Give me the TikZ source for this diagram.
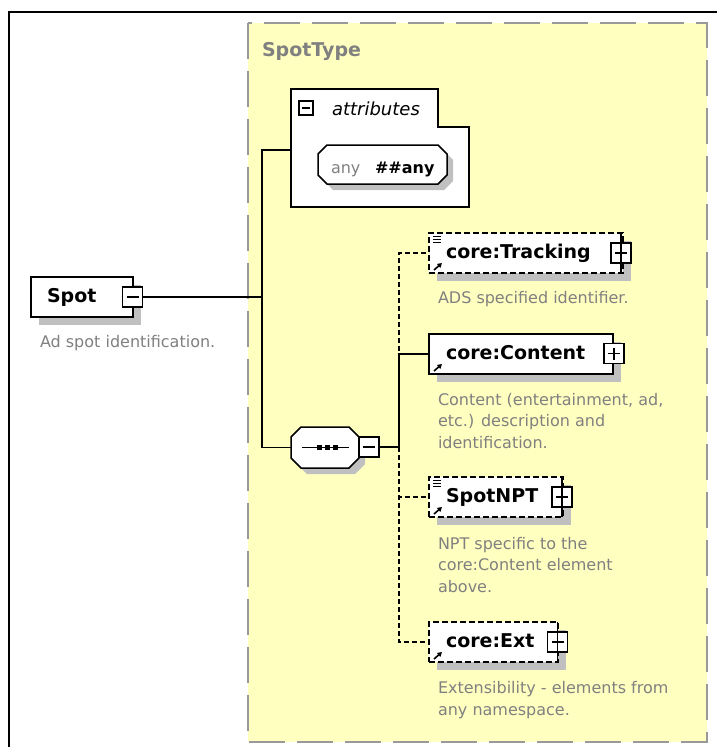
\documentclass[tikz,border=0pt]{standalone}
\usepackage{fontspec}
\setmainfont{DejaVu Sans}
\usetikzlibrary{shadows,arrows.meta,calc}
\definecolor{ylw}{HTML}{FFFFC0}
\definecolor{dgray}{HTML}{808080}
\definecolor{shd}{HTML}{C0C0C0}
\definecolor{bgray}{HTML}{999999}
\newcommand\pmbar[1]{\draw[line width=1.2pt] ([xshift=4pt]#1.west) -- ([xshift=-4pt]#1.east);}
\newcommand\pmvert[1]{\draw[line width=1.2pt] ([yshift=-4pt]#1.north) -- ([yshift=4pt]#1.south);}
\newcommand\multicon[1]{\foreach \k in {3,6,9}{\draw[line width=1pt] ($(#1.north west)+(4,\k)$) -- ++(8,0);}}
\newcommand\refarrow[1]{\draw[line width=1.6pt,-{Triangle[length=4.5pt,width=5pt]}] ($(#1.south west)+(5,-3)$) -- ++(8,-7);}
% octagon outline: centre x, centre y, width, height, chamfer
\newcommand\octpath[5]{(#1-#3/2+#5,#2-#4/2) -- (#1+#3/2-#5,#2-#4/2) -- (#1+#3/2,#2-#4/2+#5) -- (#1+#3/2,#2+#4/2-#5) -- (#1+#3/2-#5,#2+#4/2) -- (#1-#3/2+#5,#2+#4/2) -- (#1-#3/2,#2+#4/2-#5) -- (#1-#3/2,#2-#4/2+#5) -- cycle}
\begin{document}
\begin{tikzpicture}[x=1pt,y=-1pt,
  every node/.style={inner sep=0pt, outer sep=0pt},
  lab/.style={font=\fontsize{19}{22}\bfseries\selectfont, text height=14pt, text depth=4pt, align=left},
  elem/.style={draw, fill=white, line width=1.5pt, minimum height=40pt, anchor=north west,
    drop shadow={shadow xshift=8pt, shadow yshift=-8pt, opacity=1, fill=shd}},
  optb/.style={dash pattern=on 6pt off 3pt},
  desc/.style={font=\fontsize{16}{21.5}\selectfont, text=dgray, align=left, anchor=base west},
  pm/.style={draw, fill=white, line width=1.2pt, minimum size=20pt},
  conn/.style={line width=1.5pt},
  oconn/.style={conn, dash pattern=on 5pt off 3pt},
  octline/.style={draw, fill=white, line width=1.5pt},
]
\useasboundingbox (0,0) rectangle (716,747);
\fill[white] (0,0) rectangle (716,747);
\draw[line width=1.5pt] (9,760) -- (9,12) -- (730,12);
% complex type area
\draw[fill=ylw, draw=bgray, line width=2pt, dash pattern=on 36pt off 12pt] (248,23) rectangle (707,742);
\node[anchor=base west, font=\fontsize{19}{22}\bfseries\selectfont, text=dgray] (stype) at (262,56) {SpotType};
% attributes
\draw[line width=1.5pt, fill=white] (291,89) -- (438,89) -- (438,127) -- (469,127) -- (469,207) -- (291,207) -- cycle;
\coordinate (attr) at (291,150);
\node[draw, fill=white, line width=1.2pt, minimum size=14pt] (attrm) at (306,108) {};
\draw[line width=1.2pt] ([xshift=3pt]attrm.west) -- ([xshift=-3pt]attrm.east);
\node[anchor=base west, font=\fontsize{18}{22}\itshape\selectfont] (attrl) at (332,115) {attributes};
\fill[shd, shift={(6,6)}] \octpath{382.5}{164.5}{129}{39}{9};
\path[octline] \octpath{382.5}{164.5}{129}{39}{9};
\node[minimum width=129pt, minimum height=39pt] (anyn) at (382.5,164.5) {};
\node[anchor=base west, font=\fontsize{16}{20}\selectfont, text=dgray] (anyl) at (331,173) {any};
\node[anchor=base west, font=\fontsize{16}{20}\bfseries\selectfont] (anyv) at (375,173) {\#\#any};
% Spot element
\node[elem, lab, text width=102pt] (spot) at (31,277) {\hspace*{16pt}Spot};
\node[pm] (spotm) at (132.5,297) {};
\pmbar{spotm}
\node[desc] (spotd) at (40,347) {Ad spot identification.};
% sequence compositor
\fill[shd, shift={(6,6)}] \octpath{325}{447.5}{68}{41}{10};
\path[octline] \octpath{325}{447.5}{68}{41}{10};
\node[minimum width=68pt, minimum height=41pt] (seq) at (325,447.5) {};
\draw[line width=1.5pt] ($(seq.center)+(-23,0)$) -- ($(seq.center)+(24,0)$);
\foreach \dx in {-5.5,2.5,10.5}{\fill ($(seq.center)+(\dx,0)+(-2.5,-2.5)$) rectangle ++(5,5);}
\node[pm] (seqm) at (369,447) {};
\pmbar{seqm}
% connectors from Spot
\coordinate (bus1) at (262,297);
\draw[conn] (spotm.east) -- (bus1);
\draw[conn] (attr) -| (bus1) |- (seq.west);
% child elements
\node[elem, lab, optb, text width=194pt] (track) at (429,233) {\hspace*{17pt}core:Tracking};
\node[elem, lab, text width=184pt] (content) at (429,334) {\hspace*{17pt}core:Content};
\node[elem, lab, optb, text width=134pt] (npt) at (429,477) {\hspace*{17pt}SpotNPT};
\node[elem, lab, optb, text width=129pt] (ext) at (429,622) {\hspace*{17pt}core:Ext};
\multicon{track}
\multicon{npt}
\refarrow{track}
\refarrow{content}
\refarrow{npt}
\refarrow{ext}
% plus boxes
\node[pm] (trackp) at (621,253) {};
\node[pm] (contentp) at (614,353.5) {};
\node[pm] (nptp) at (562,497) {};
\node[pm] (extp) at (557.5,642) {};
\foreach \p/\e in {trackp/track,nptp/npt,extp/ext}{
  \draw[line width=1.2pt] (\p.center |- \e.north) -- (\p.center |- \e.south);
  \pmbar{\p}
}
\pmbar{contentp}
\pmvert{contentp}
% descriptions (anchored at the baseline of their last line)
\node[desc] (trackd) at (438,303) {ADS specified identifier.};
\node[desc] (contentd) at (438,448) {Content (entertainment, ad,\\etc.) description and\\identification.};
\node[desc] (nptd) at (438,592) {NPT specific to the\\core:Content element\\above.};
\node[desc] (extd) at (438,715) {Extensibility - elements from\\any namespace.};
% connectors from sequence
\coordinate (bus2) at (399,447);
\draw[conn] (seqm.east) -- (bus2);
\draw[oconn] (bus2) |- (track.west);
\draw[oconn] (bus2) |- (npt.west);
\draw[oconn] (bus2) |- (ext.west);
\draw[conn] (bus2) |- (content.west);
\end{tikzpicture}
\end{document}
